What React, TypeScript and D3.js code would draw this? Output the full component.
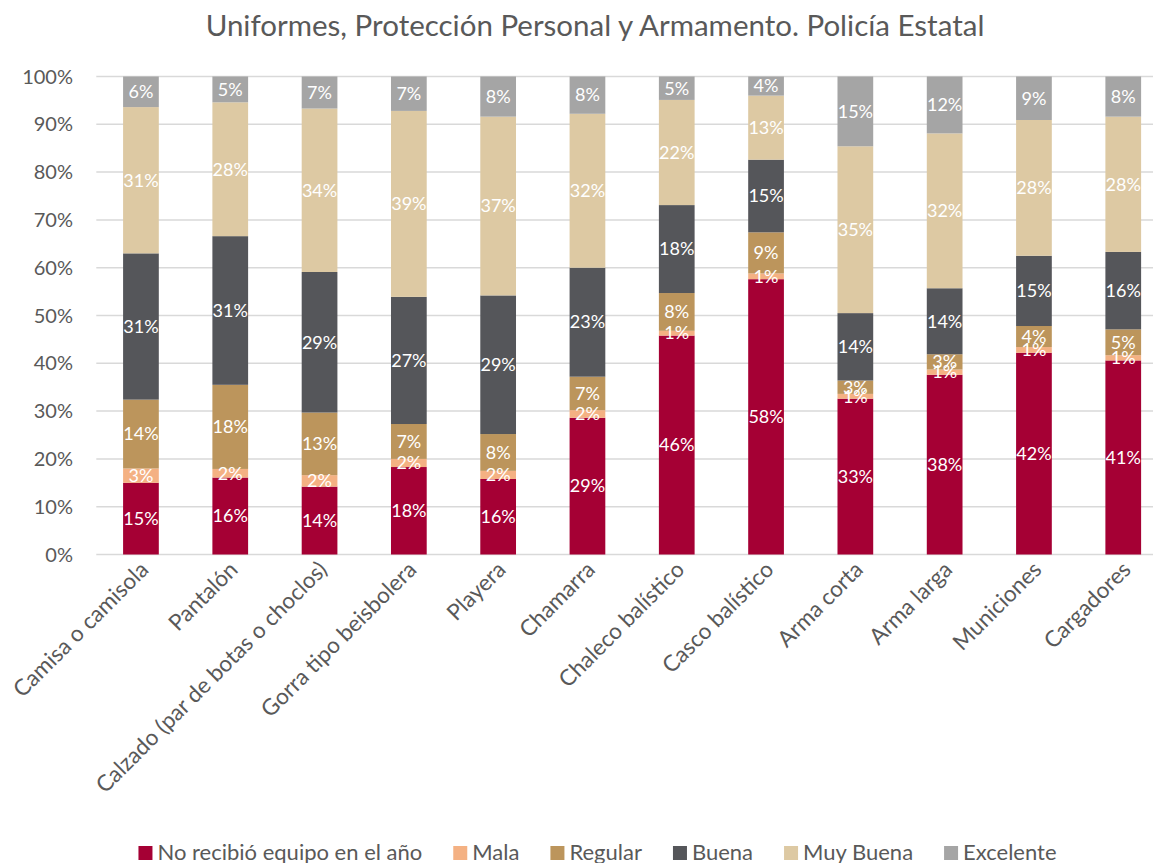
import React, { useEffect, useRef } from "react";
import * as d3 from "d3";

const title = "Uniformes, Protección Personal y Armamento. Policía Estatal";
const categories = [
  "Camisa o camisola",
  "Pantalón",
  "Calzado (par de botas o choclos)",
  "Gorra tipo beisbolera",
  "Playera",
  "Chamarra",
  "Chaleco balístico",
  "Casco balístico",
  "Arma corta",
  "Arma larga",
  "Municiones",
  "Cargadores",
];
const seriesNames = ["No recibió equipo en el año", "Mala", "Regular", "Buena", "Muy Buena", "Excelente"];
const seriesColors = ["#A50034", "#F4B183", "#BC955C", "#55565A", "#DDC9A3", "#A5A5A5"];

const noRecibio = [15.0, 16.1, 14.2, 18.3, 15.8, 28.6, 45.8, 57.6, 32.6, 37.6, 42.2, 40.6];
const mala = [3.0, 1.8, 2.4, 1.7, 1.7, 1.6, 1.0, 1.2, 1.0, 1.1, 1.2, 1.1];
const regular = [14.4, 17.6, 13.1, 7.3, 7.7, 7.0, 7.9, 8.6, 2.8, 3.2, 4.4, 5.4];
const buena = [30.6, 31.1, 29.4, 26.6, 29.0, 22.8, 18.4, 15.2, 14.1, 13.8, 14.7, 16.2];
const muyBuena = [30.6, 28.0, 34.2, 38.9, 37.4, 32.2, 22.0, 13.4, 34.9, 32.4, 28.4, 28.3];
const excelente = [6.4, 5.4, 6.7, 7.2, 8.4, 7.8, 4.9, 4.0, 14.6, 11.9, 9.1, 8.4];

const yTicks = [0, 10, 20, 30, 40, 50, 60, 70, 80, 90, 100];

const W = 1153;
const H = 863;
const FONT = "Lato, 'Open Sans', sans-serif";

export default function App() {
  const ref = useRef<SVGSVGElement>(null);

  useEffect(() => {
    const svg = d3.select(ref.current);
    svg.selectAll("*").remove();

    const seriesData = [noRecibio, mala, regular, buena, muyBuena, excelente];
    const rows = categories.map((c, i) => {
      const r: any = { cat: c };
      seriesNames.forEach((s, k) => (r[s] = seriesData[k][i]));
      return r;
    });
    const stack = d3.stack<any>().keys(seriesNames)(rows);

    const left = 96.3;
    const band = 89.3;
    const x = d3
      .scaleBand<string>()
      .domain(categories)
      .range([left, left + band * categories.length])
      .paddingInner(0.6)
      .paddingOuter(0.3);
    const y = d3.scaleLinear().domain([0, 100]).range([554.5, 76.5]);

    // title
    svg
      .append("text")
      .attr("x", 595)
      .attr("y", 36)
      .attr("text-anchor", "middle")
      .attr("font-family", FONT)
      .attr("font-size", 29.5)
      .attr("fill", "#595959")
      .text(title);

    // gridlines
    const g = svg.append("g");
    g.selectAll("line.grid")
      .data(yTicks)
      .join("line")
      .attr("x1", left)
      .attr("x2", W)
      .attr("y1", (d) => y(d))
      .attr("y2", (d) => y(d))
      .attr("stroke", "#D9D9D9")
      .attr("stroke-width", 1.5);

    g.selectAll("text.ytick")
      .data(yTicks)
      .join("text")
      .attr("x", 73)
      .attr("y", (d) => y(d))
      .attr("dy", "0.35em")
      .attr("text-anchor", "end")
      .attr("font-family", FONT)
      .attr("font-size", 20)
      .attr("fill", "#595959")
      .text((d) => d + "%");

    // bars
    stack.forEach((layer, k) => {
      const lg = svg.append("g");
      lg.selectAll("rect")
        .data(layer)
        .join("rect")
        .attr("x", (d: any) => x(d.data.cat)!)
        .attr("width", x.bandwidth())
        .attr("y", (d: any) => y(d[1]))
        .attr("height", (d: any) => y(d[0]) - y(d[1]))
        .attr("fill", seriesColors[k]);
    });
    stack.forEach((layer) => {
      const lg = svg.append("g");
      lg.selectAll("text")
        .data(layer)
        .join("text")
        .attr("x", (d: any) => x(d.data.cat)! + x.bandwidth() / 2)
        .attr("y", (d: any) => (y(d[0]) + y(d[1])) / 2)
        .attr("dy", "0.35em")
        .attr("text-anchor", "middle")
        .attr("font-family", FONT)
        .attr("font-size", 18)
        .attr("fill", "#FFFFFF")
        .text((d: any) => Math.round(d[1] - d[0]) + "%");
    });

    // x labels
    svg
      .append("g")
      .selectAll("text")
      .data(categories)
      .join("text")
      .attr(
        "transform",
        (d) => `translate(${x(d)! + x.bandwidth() / 2 + 9},${571}) rotate(-45)`
      )
      .attr("text-anchor", "end")
      .attr("font-family", FONT)
      .attr("font-size", 22.5)
      .attr("fill", "#595959")
      .text((d) => d);

    // legend
    const leg = svg.append("g");
    const items: any[] = [];
    const sq = 14;
    const tgap = 5;
    seriesNames.forEach((s, k) => {
      const it = leg.append("g");
      it.append("rect")
        .attr("x", 0)
        .attr("y", 846)
        .attr("width", sq)
        .attr("height", sq)
        .attr("fill", seriesColors[k]);
      const t = it
        .append("text")
        .attr("x", sq + tgap)
        .attr("y", 860)
        .attr("font-family", FONT)
        .attr("font-size", 22)
        .attr("fill", "#595959")
        .text(s);
      const w = (t.node() as SVGTextElement).getComputedTextLength();
      items.push({ it, w });
    });
    const gap = 31;
    const total = items.reduce((a, b) => a + sq + tgap + b.w, 0) + gap * (items.length - 1);
    let cx = 597.5 - total / 2;
    items.forEach((o) => {
      o.it.attr("transform", `translate(${cx},0)`);
      cx += sq + tgap + o.w + gap;
    });
  }, []);

  return (
    <svg
      ref={ref}
      width={W}
      height={H}
      style={{ position: "absolute", left: 0, top: 0, background: "#fff" }}
    />
  );
}
